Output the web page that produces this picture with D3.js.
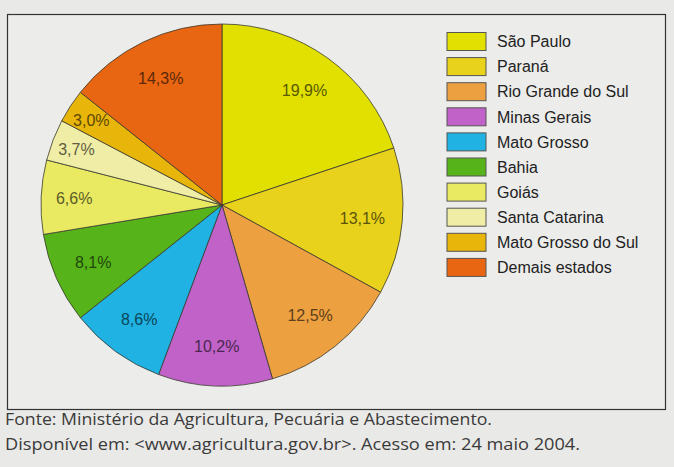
<!DOCTYPE html>
<html lang="pt">
  <head>
    <meta charset="UTF-8" />
    <title>Pie</title>
    <style>
      body { margin: 0; background: #e9e9e7; }
      svg { display: block; }
    </style>
  </head>
  <body>
    <div id="main"></div>
    <script src="https://cdn.jsdelivr.net/npm/d3@7"></script>
    <script>
      const estados = [
        'São Paulo', 'Paraná', 'Rio Grande do Sul', 'Minas Gerais', 'Mato Grosso',
        'Bahia', 'Goiás', 'Santa Catarina', 'Mato Grosso do Sul', 'Demais estados'
      ]
      const valores = [19.9, 13.1, 12.5, 10.2, 8.6, 8.1, 6.6, 3.7, 3.0, 14.3]
      const cores = [
        '#e2e000', '#e8d21c', '#eca040', '#c062c8', '#1fb2e2',
        '#56b41a', '#e9ea62', '#efeda6', '#e8b60a', '#e86612'
      ]
      const fonte = [
        'Fonte: Ministério da Agricultura, Pecuária e Abastecimento.',
        'Disponível em: <www.agricultura.gov.br>. Acesso em: 24 maio 2004.'
      ]

      const [width, height] = [674, 467]
      const svg = d3.select('#main')
        .append('svg')
        .attr('width', width)
        .attr('height', height)

      // moldura
      svg.append('rect')
        .attr('x', 7.5).attr('y', 14.5)
        .attr('width', 658).attr('height', 395)
        .attr('fill', '#ececea')
        .attr('stroke', '#333').attr('stroke-width', 1.2)

      const cx = 222, cy = 205, r = 181
      const pie = d3.pie().sort(null).value(d => d.v)
      const arcs = pie(valores.map((v, i) => ({ v, nome: estados[i], cor: cores[i] })))
      const arc = d3.arc().innerRadius(0).outerRadius(r)

      const g = svg.append('g').attr('transform', `translate(${cx},${cy})`)
      g.selectAll('path')
        .data(arcs)
        .join('path')
        .attr('d', arc)
        .attr('fill', d => d.data.cor)
        .attr('stroke', '#3a3a30')
        .attr('stroke-width', 0.8)

      // raio do rótulo: fatias pequenas ficam mais perto da borda
      const labelR = v => (v < 5 ? 156 : v < 7 ? 148 : 141)
      g.selectAll('text')
        .data(arcs)
        .join('text')
        .attr('transform', d => {
          const a = (d.startAngle + d.endAngle) / 2
          const rr = labelR(d.data.v)
          return `translate(${Math.sin(a) * rr},${-Math.cos(a) * rr})`
        })
        .attr('text-anchor', 'middle')
        .attr('dy', '0.36em')
        .attr('font-family', 'Liberation Sans, Arial, sans-serif')
        .attr('font-size', 16)
        .attr('fill', d => d3.color(d.data.cor).darker(2.6))
        .text(d => d3.format('.1f')(d.data.v).replace('.', ',') + '%')

      // legenda
      const leg = svg.append('g')
        .selectAll('g')
        .data(estados)
        .join('g')
        .attr('transform', (_, i) => `translate(447, ${41.5 + i * 25.1})`)
      leg.append('rect')
        .attr('x', 0).attr('y', -9)
        .attr('width', 39).attr('height', 18)
        .attr('fill', (_, i) => cores[i])
        .attr('stroke', '#555').attr('stroke-width', 1)
      leg.append('text')
        .attr('x', 50).attr('dy', '0.36em')
        .attr('font-family', 'Liberation Sans, Arial, sans-serif')
        .attr('font-size', 16)
        .attr('fill', '#222')
        .text(d => d)

      // fonte
      svg.append('g')
        .selectAll('text')
        .data(fonte)
        .join('text')
        .attr('x', 5)
        .attr('y', (_, i) => 425 + i * 25)
        .attr('font-family', 'Open Sans, Noto Sans, sans-serif')
        .attr('font-size', 17)
        .attr('fill', '#3a3a3a')
        .attr('textLength', (_, i) => [487, 575][i])
        .attr('lengthAdjust', 'spacingAndGlyphs')
        .text(d => d)
    </script>
  </body>
</html>
